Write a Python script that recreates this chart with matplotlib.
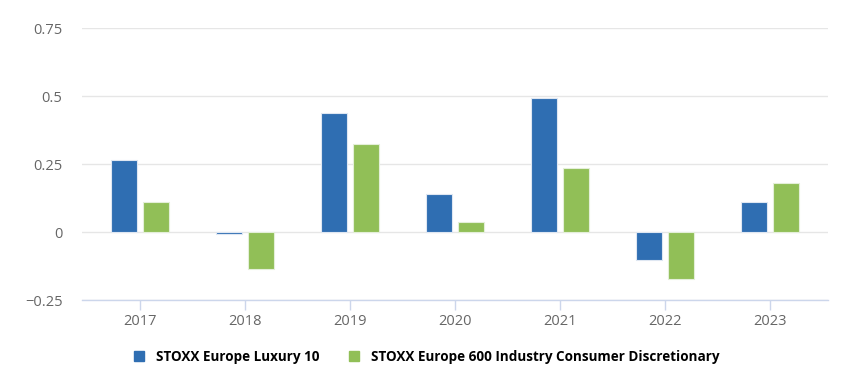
import numpy as np
import matplotlib.pyplot as plt
from matplotlib.patches import Patch

plt.rcParams['font.family'] = ['Open Sans', 'DejaVu Sans']

years = ['2017', '2018', '2019', '2020', '2021', '2022', '2023']
luxury = [0.263, -0.009, 0.4375, 0.140, 0.493, -0.104, 0.111]
discretionary = [0.111, -0.136, 0.324, 0.038, 0.235, -0.173, 0.180]
series_names = ['STOXX Europe Luxury 10', 'STOXX Europe 600 Industry Consumer Discretionary']

blue = '#2f6eb2'
green = '#91bf57'

fig = plt.figure(figsize=(8.52, 3.70), dpi=100)
ax = fig.add_axes([82 / 852, 1 - 300 / 370, 746 / 852, 272 / 370])

x = np.arange(len(years))
w = 0.245
ax.bar(x - 0.152, luxury, w, color=blue, edgecolor='#dfe7f2', linewidth=0.8, zorder=3)
ax.bar(x + 0.152, discretionary, w, color=green, edgecolor='#e4efd9', linewidth=0.8, zorder=3)

ax.set_ylim(-0.25, 0.75)
ax.set_xlim(-0.555, 6.555)
ax.set_yticks([-0.25, 0, 0.25, 0.5, 0.75])
ax.set_yticklabels(['\u22120.25', '0', '0.25', '0.5', '0.75'])
ax.set_xticks(x)
ax.set_xticklabels(years)

ax.grid(axis='y', color='#e6e6e6', linewidth=1, zorder=0)
for s in ['top', 'right', 'left']:
    ax.spines[s].set_visible(False)
ax.spines['bottom'].set_color('#ccd6eb')
ax.spines['bottom'].set_linewidth(1)

ax.tick_params(axis='y', length=0, pad=14, labelsize=10.5, labelcolor='#666666')
ax.tick_params(axis='x', length=7, width=1, color='#ccd6eb', pad=3,
               labelsize=10.5, labelcolor='#666666')

handles = [Patch(color=blue), Patch(color=green)]
fig.legend(handles, series_names, loc='center', bbox_to_anchor=(0.501, 0.035),
           ncol=2, frameon=False, handlelength=0.75, handleheight=0.75,
           handletextpad=0.85, columnspacing=2.2,
           prop={'weight': 'bold', 'size': 9.75})

fig.savefig('out.png', dpi=100)
